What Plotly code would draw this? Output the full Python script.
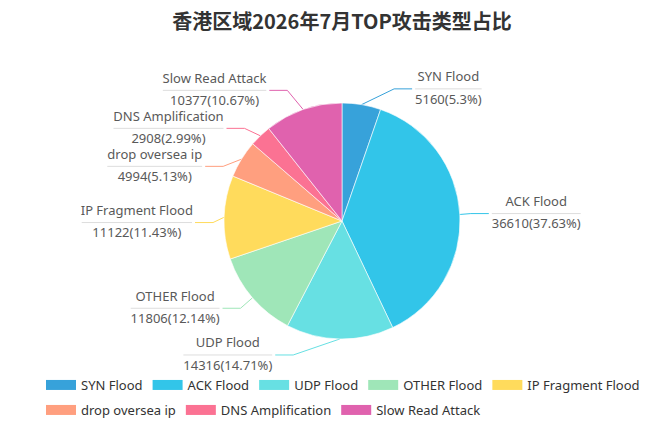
import math
import plotly.graph_objects as go

# data
attack_types = ["SYN Flood", "ACK Flood", "UDP Flood", "OTHER Flood", "IP Fragment Flood",
                "drop oversea ip", "DNS Amplification", "Slow Read Attack"]
attack_counts = [5160, 36610, 14316, 11806, 11122, 4994, 2908, 10377]
slice_colors = ["#37A2DA", "#32C5E9", "#67E0E3", "#9FE6B8", "#FFDB5C",
                "#ff9f7f", "#fb7293", "#E062AE"]
legend_rows = [attack_types[:5], attack_types[5:]]

TITLE = "香港区域2026年7月TOP攻击类型占比"

# page geometry (pixels)
W, H = 663, 438
CX, CY, R = 342, 221, 118
LEN1, LEN2 = 16, 18      # label line segments
LABEL_H = 38             # height of a two-line label block
LABEL_DIST = 5
TEXT_GAP = 3
FONT = "Noto Sans"
FONT_SIZE = 13

# rough advance widths (per 1000 em) for measuring label text
CHAR_W = {" ": 260, "(": 296, ")": 296, "%": 826, ".": 268,
          "A": 639, "C": 632, "D": 729, "F": 516, "I": 279, "K": 618, "N": 765,
          "O": 780, "P": 603, "R": 618, "S": 549, "T": 553, "U": 754, "Y": 571,
          "H": 754, "E": 556, "a": 556, "c": 479, "d": 613, "e": 561, "f": 336,
          "g": 547, "h": 618, "i": 258, "k": 525, "l": 258, "m": 930, "n": 618,
          "o": 605, "p": 613, "r": 408, "s": 477, "t": 352, "v": 500, "w": 778}


def text_width(s):
    return sum(CHAR_W.get(ch, 572) for ch in s) * FONT_SIZE / 1000.0


def percents(values, precision=2):
    """largest-remainder rounding so the shares add up to exactly 100"""
    digits = 10 ** precision
    total = sum(values)
    quota = [v / total * digits * 100 for v in values]
    seats = [math.floor(q) for q in quota]
    rest = [q - s for q, s in zip(quota, seats)]
    while sum(seats) < digits * 100:
        k = max(range(len(rest)), key=lambda i: rest[i])
        seats[k] += 1
        rest[k] = 0
    return [s / digits for s in seats]


def adjust_side(items, direction):
    """echarts-4 style label placement: push overlapping labels apart, then slide x along an ellipse."""
    items.sort(key=lambda it: it["y"])
    n = len(items)

    def shift_up(end, delta):
        for j in range(end, -1, -1):
            if items[j]["y"] - delta < 0:
                break
            items[j]["y"] -= delta
            if j > 0 and items[j]["y"] > items[j - 1]["y"] + LABEL_H:
                break

    def shift_down(start, end, delta):
        for j in range(start, end):
            if items[j]["y"] + delta > H:
                break
            items[j]["y"] += delta
            if j > start and j + 1 < end and items[j + 1]["y"] > items[j]["y"] + LABEL_H:
                shift_up(j, delta / 2)
                return
        shift_up(end - 1, delta / 2)

    last_y = 0
    for i in range(n):
        delta = items[i]["y"] - last_y
        if delta < 0:
            shift_down(i, n, -delta)
        last_y = items[i]["y"] + LABEL_H

    big = R + LEN1 + LEN2
    up = [it for it in items if it["y"] < CY]
    down = [it for it in items if it["y"] >= CY]
    for group, is_down in ((up, False), (down, True)):
        last_dx = float("inf") if is_down else 0
        for it in group:
            dy = abs(it["y"] - CY)
            if dy < R + LEN1:
                dx = math.sqrt(big * big - dy * dy)
            else:
                dx = abs(it["x"] - CX)
            if is_down and dx >= last_dx:
                dx = last_dx - 10
            if not is_down and dx <= last_dx:
                dx = last_dx + 10
            it["x"] = CX + dx * direction
            last_dx = dx


total = sum(attack_counts)
shares = percents(attack_counts)
labels = []
cum = 0.0
for name, val, pct, color in zip(attack_types, attack_counts, shares, slice_colors):
    frac = val / total
    mid = 2 * math.pi * (cum + frac / 2)
    cum += frac
    sx, sy = math.sin(mid), -math.cos(mid)
    d = -1 if sx < 0 else 1
    x2 = CX + (R + LEN1) * sx
    y2 = CY + (R + LEN1) * sy
    labels.append(dict(name=name, value=f"{val}({pct:g}%)", color=color, dir=d,
                       p0=(CX + R * sx, CY + R * sy),
                       x=x2 + d * (LEN2 + LABEL_DIST), y=y2))

adjust_side([lb for lb in labels if lb["dir"] > 0], 1)
adjust_side([lb for lb in labels if lb["dir"] < 0], -1)

fig = go.Figure()

fig.add_trace(go.Pie(
    labels=attack_types,
    values=attack_counts,
    marker=dict(colors=slice_colors, line=dict(color="rgba(255,255,255,0.6)", width=1)),
    sort=False,
    direction="clockwise",
    rotation=0,
    textinfo="none",
    hoverinfo="label+value+percent",
    showlegend=False,
    domain=dict(x=[(CX - R) / W, (CX + R) / W], y=[1 - (CY + R) / H, 1 - (CY - R) / H]),
))

name_x, name_y, value_x, value_y = [], [], [], []
for lb in labels:
    d = lb["dir"]
    x3 = lb["x"] - d * LABEL_DIST
    x1 = x3 - d * LEN2
    # coloured leader line
    fig.add_trace(go.Scatter(
        x=[lb["p0"][0], x1, x3], y=[lb["p0"][1], lb["y"], lb["y"]],
        mode="lines", line=dict(color=lb["color"], width=1),
        hoverinfo="skip", showlegend=False))
    # grey rule between name and value
    w = max(text_width(lb["name"]), text_width(lb["value"]))
    a = x3 + d * TEXT_GAP
    b = a + d * w
    fig.add_trace(go.Scatter(
        x=[a, b], y=[lb["y"], lb["y"]],
        mode="lines", line=dict(color="#dddddd", width=1),
        hoverinfo="skip", showlegend=False))
    mid_x = (a + b) / 2
    name_x.append(mid_x)
    name_y.append(lb["y"] - 11)
    value_x.append(mid_x)
    value_y.append(lb["y"] + 11.5)

fig.add_trace(go.Scatter(
    x=name_x + value_x, y=name_y + value_y,
    text=[lb["name"] for lb in labels] + [lb["value"] for lb in labels],
    mode="text", textposition="middle center",
    textfont=dict(family=FONT, size=FONT_SIZE, color="#595959"),
    hoverinfo="skip", showlegend=False))

# legend entries, split over two single-row legends like the reference
color_of = dict(zip(attack_types, slice_colors))
for row, legend_id in zip(legend_rows, ["legend", "legend2"]):
    for name in row:
        fig.add_trace(go.Scatter(
            x=[None], y=[None], mode="lines", name=name,
            line=dict(color=color_of[name], width=14),
            legend=legend_id, hoverinfo="skip"))

legend_style = dict(orientation="h", xanchor="left", yanchor="middle",
                    font=dict(family=FONT, size=FONT_SIZE, color="#333333"),
                    bgcolor="rgba(0,0,0,0)")

fig.update_layout(
    width=W,
    height=H,
    autosize=False,
    margin=dict(l=0, r=0, t=0, b=0),
    paper_bgcolor="white",
    plot_bgcolor="rgba(0,0,0,0)",
    title=dict(text=f"<b>{TITLE}</b>", x=342 / W, xanchor="center",
               y=1 - 22 / H, yanchor="middle", yref="container",
               font=dict(family="Noto Sans CJK SC", size=20, color="#333333")),
    xaxis=dict(range=[0, W], visible=False, fixedrange=True),
    yaxis=dict(range=[H, 0], visible=False, fixedrange=True),
    legend=dict(x=41 / W, y=1 - 385 / H, **legend_style),
    legend2=dict(x=41 / W, y=1 - 410 / H, **legend_style),
    showlegend=True,
)

fig.write_html("out.html", config={"displayModeBar": False},
               post_script="document.body.style.margin='0';")
